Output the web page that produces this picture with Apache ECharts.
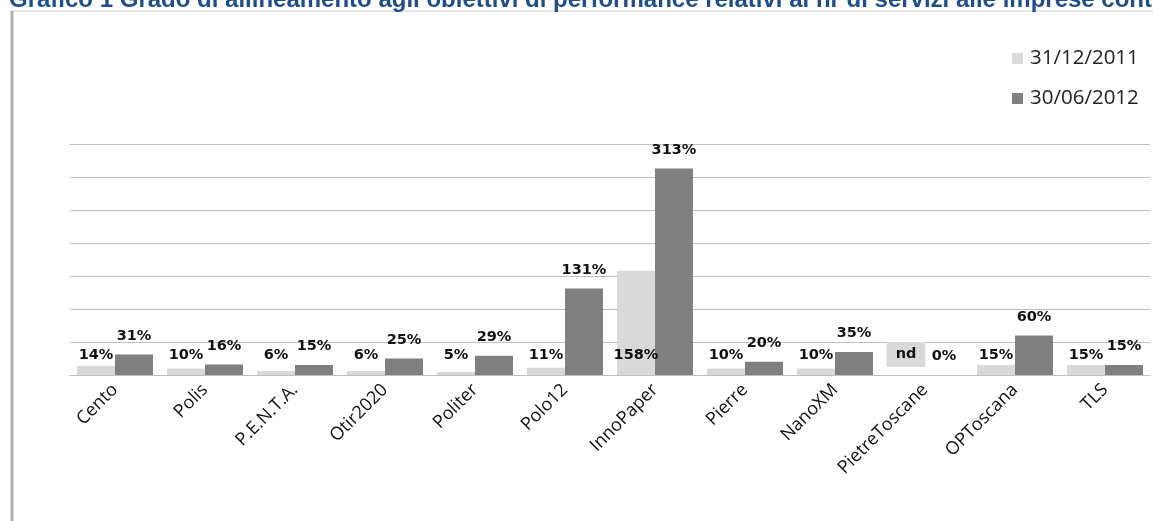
<!DOCTYPE html>
<html>
<head>
<meta charset="utf-8">
<script src="https://cdn.jsdelivr.net/npm/echarts@6/dist/echarts.min.js"></script>
<style>html,body{margin:0;padding:0;background:#fff;}#c{width:1153px;height:521px;}</style>
</head>
<body>
<div id="c"></div>
<script>
const categories = ['Cento','Polis','P.E.N.T.A.','Otir2020','Politer','Polo12','InnoPaper','Pierre','NanoXM','PietreToscane','OPToscana','TLS'];
const seriesNames = ['31/12/2011','30/06/2012'];
const values2011 = [14,10,6,6,5,11,158,10,10,null,15,15];
const values2012 = [31,16,15,25,29,131,313,20,35,0,60,15];
const yTicks = {min:0, max:350, interval:50};

const chart = echarts.init(document.getElementById('c'));
const labelFont = {fontFamily:'DejaVu Sans', fontWeight:'bold', fontSize:14.5, color:'#111'};
chart.setOption({
  animation:false,
  title:{text:'Grafico 1 Grado di allineamento agli obiettivi di performance relativi ai nr di servizi alle imprese cont',
    left:4, top:-17, textStyle:{fontFamily:'Liberation Sans', fontWeight:'bold', fontSize:24, color:'#1F4E8C'}},
  graphic:[
    {type:'line', shape:{x1:10,y1:11,x2:1153,y2:11}, style:{stroke:'#e6e6e6', lineWidth:2}},
    {type:'line', shape:{x1:12,y1:11,x2:12,y2:521}, style:{stroke:'#b0b0b0', lineWidth:3}}
  ],
  legend:{orient:'vertical', left:1007, top:43, itemWidth:11, itemHeight:11, itemGap:19, icon:'rect',
    textStyle:{fontFamily:'Open Sans', fontSize:20.5, color:'#222', padding:[0,0,0,2]}},
  grid:{left:70, right:3, top:144, bottom:146},
  xAxis:{type:'category', data:categories,
    axisLine:{lineStyle:{color:'#bfbfbf'}}, axisTick:{show:false},
    axisLabel:{rotate:45, interval:0, fontFamily:'Open Sans', fontSize:18, color:'#111', margin:12}},
  yAxis:{type:'value', min:yTicks.min, max:yTicks.max, interval:yTicks.interval,
    axisLabel:{show:false}, axisLine:{show:false}, axisTick:{show:false},
    splitLine:{lineStyle:{color:'#bfbfbf'}}},
  series:[
    {name:seriesNames[0], type:'bar', barWidth:38, barGap:'0%', itemStyle:{color:'#d9d9d9'},
      data: values2011.map(v => v === null
        ? {value:0, label:{formatter:'nd', backgroundColor:'#d9d9d9', padding:[5,9], distance:8}}
        : v),
      label:Object.assign({show:true, position:'insideBottom', distance:12, formatter:'{c}%'}, labelFont)},
    {name:seriesNames[1], type:'bar', barWidth:38, barGap:'0%', itemStyle:{color:'#808080'},
      data: values2012,
      label:Object.assign({show:true, position:'top', distance:11, formatter:'{c}%'}, labelFont)}
  ]
});
</script>
</body>
</html>
